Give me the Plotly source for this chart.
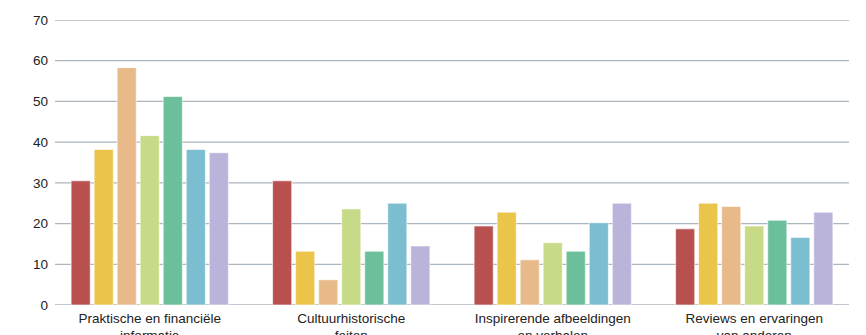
import plotly.graph_objects as go

categories = [
    "Praktische en financiële<br>informatie",
    "Cultuurhistorische<br>feiten",
    "Inspirerende afbeeldingen<br>en verhalen",
    "Reviews en ervaringen<br>van anderen",
]
series_names = ["Reeks 1", "Reeks 2", "Reeks 3", "Reeks 4", "Reeks 5", "Reeks 6", "Reeks 7"]
values = [
    [30.5, 30.5, 19.4, 18.7],
    [38.2, 13.2, 22.8, 25.0],
    [58.3, 6.2, 11.1, 24.2],
    [41.6, 23.6, 15.3, 19.4],
    [51.2, 13.2, 13.2, 20.8],
    [38.2, 25.0, 20.2, 16.6],
    [37.4, 14.5, 25.0, 22.8],
]
colors = ["#B85050", "#EAC54A", "#E8BA8A", "#C6DA87", "#6CBF9B", "#7BBECF", "#BAB4DB"]
y_ticks = [0, 10, 20, 30, 40, 50, 60, 70]

W, H = 866, 335
ML, MR, MT, MB = 49, 11, 20, 30
plot_w = W - ML - MR
grid_x0 = (55 - ML) / plot_w
grid_x1 = (849 - ML) / plot_w

fig = go.Figure()
for name, vals, col in zip(series_names, values, colors):
    fig.add_trace(go.Bar(
        x=categories, y=vals, name=name,
        marker=dict(color=col, line=dict(color="rgba(255,255,255,0.6)", width=1)),
    ))

# gridlines (drawn below the bars)
for t in y_ticks:
    fig.add_shape(
        type="line", xref="paper", yref="y", x0=grid_x0, x1=grid_x1, y0=t, y1=t,
        line=dict(color="#ABB5BD", width=1.3), layer="below",
    )

fig.update_layout(
    width=W, height=H,
    margin=dict(l=ML, r=MR, t=MT, b=MB),
    paper_bgcolor="white", plot_bgcolor="white",
    barmode="group", bargap=0.2, bargroupgap=0.17,
    showlegend=False,
    font=dict(family="Liberation Sans, Arial, sans-serif", size=13, color="#222222"),
)
fig.update_xaxes(
    showgrid=False, showline=False, zeroline=False,
    ticks="", tickfont=dict(size=13.5, color="#222222"), automargin=False,
    ticklabelstandoff=3,
)
fig.update_yaxes(
    range=[0, 70], tickvals=y_ticks, showgrid=False,
    zeroline=False, showline=False, ticks="", tickfont=dict(size=13.5, color="#222222"),
    automargin=False,
)
fig.write_html("out.html")
